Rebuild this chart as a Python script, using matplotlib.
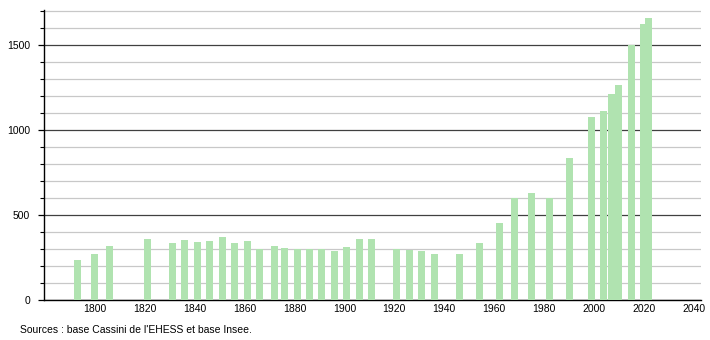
import matplotlib
matplotlib.use("Agg")
import matplotlib.pyplot as plt
from matplotlib.ticker import MultipleLocator

plt.rcParams['font.family'] = ['Liberation Sans', 'DejaVu Sans']

# années de recensement et population
years = [1793, 1800, 1806, 1821, 1831, 1836, 1841, 1846, 1851, 1856,
         1861, 1866, 1872, 1876, 1881, 1886, 1891, 1896, 1901, 1906,
         1911, 1921, 1926, 1931, 1936, 1946, 1954, 1962, 1968, 1975,
         1982, 1990, 1999, 2004, 2007, 2010, 2015, 2020, 2022]
population = [237, 272, 320, 357, 335, 355, 339, 349, 369, 337,
              349, 300, 315, 308, 300, 298, 300, 288, 314, 361,
              360, 300, 296, 288, 272, 272, 337, 450, 602, 627,
              597, 836, 1078, 1113, 1212, 1265, 1497, 1621, 1657]
xticks = [1800, 1820, 1840, 1860, 1880, 1900, 1920, 1940, 1960, 1980, 2000, 2020, 2040]
source = "Sources : base Cassini de l'EHESS et base Insee."

fig = plt.figure(figsize=(7.1, 3.4), dpi=100)
ax = fig.add_axes([0.062, 0.1176, 0.925, 0.853])

ax.bar(years, population, width=2.8, color='#b0e3b0', zorder=3)

ax.set_xlim(1779.6, 2042.8)
ax.set_ylim(0, 1705)

# grille : fine tous les 100, foncée tous les 500
ax.yaxis.set_major_locator(MultipleLocator(500))
ax.yaxis.set_minor_locator(MultipleLocator(100))
ax.grid(axis='y', which='minor', color='#c8c8c8', linewidth=0.9, zorder=1)
ax.grid(axis='y', which='major', color='#404040', linewidth=0.9, zorder=2)

ax.set_xticks(xticks)
ax.tick_params(axis='x', length=0, pad=3, labelsize=7.5)
ax.tick_params(axis='y', which='major', length=4, width=0.9, pad=6, labelsize=7.5)
ax.tick_params(axis='y', which='minor', length=3, width=0.8)

for s in ['top', 'right']:
    ax.spines[s].set_visible(False)
ax.spines['left'].set_color('black')
ax.spines['bottom'].set_color('black')
ax.spines['left'].set_linewidth(1)
ax.spines['bottom'].set_linewidth(1)

fig.text(20 / 710, 1 - 330 / 340, source, fontsize=7.5, ha='left', va='center')

fig.savefig("out.png", dpi=100)
